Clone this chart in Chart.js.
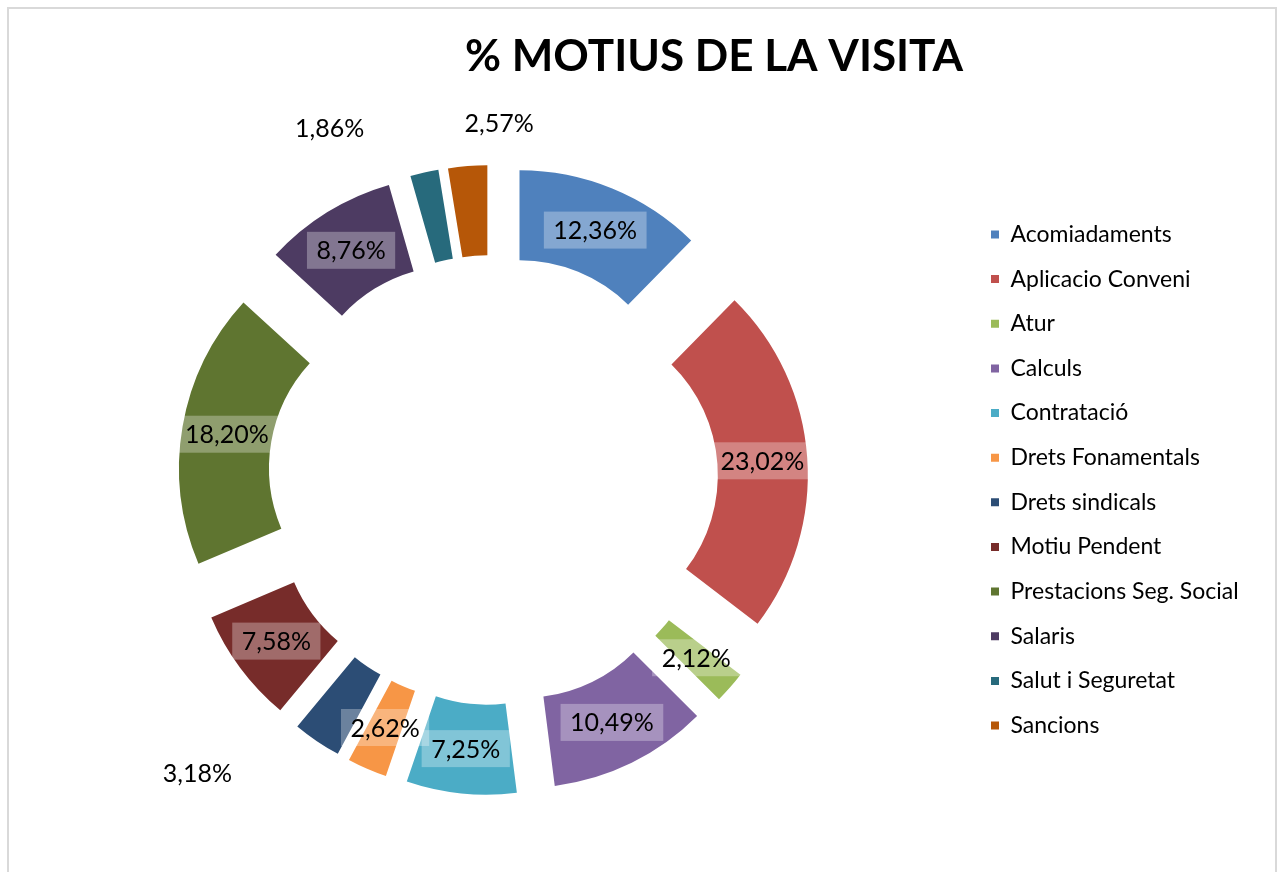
<!DOCTYPE html>
<html>
<head>
<meta charset="utf-8">
<script src="https://cdn.jsdelivr.net/npm/chart.js@4.4.1/dist/chart.umd.min.js"></script>
<style>
  html, body { margin: 0; padding: 0; background: #fff; overflow: hidden; }
  #frame { position: absolute; left: 7px; top: 7px; width: 1270px; height: 900px; border: 2px solid #d9d9d9; box-sizing: border-box; }
  #chart { position: absolute; left: 0; top: 0; }
</style>
</head>
<body>
<div id="frame"></div>
<canvas id="chart" width="1277" height="872"></canvas>
<script>
const chartTitle = "% MOTIUS DE LA VISITA";
const categories = [
  "Acomiadaments", "Aplicacio Conveni", "Atur", "Calculs", "Contratació",
  "Drets Fonamentals", "Drets sindicals", "Motiu Pendent",
  "Prestacions Seg. Social", "Salaris", "Salut i Seguretat", "Sancions"
];
const percentages = [12.36, 23.02, 2.12, 10.49, 7.25, 2.62, 3.18, 7.58, 18.20, 8.76, 1.86, 2.57];
const sliceColors = [
  "#4F81BD", "#C0504D", "#9BBB59", "#8064A2", "#4BACC6", "#F79646",
  "#2C4D75", "#772C2A", "#5F7530", "#4D3B62", "#276A7C", "#B65708"
];

const explode = 70;        // radial shift of every slice (px), like Excel's point explosion
const outerR = 245;
const innerR = 155;

// labels that Excel moved outside the ring: [angle shift in degrees, distance from centre]
const outsideLabels = { 6: [11.3, 416], 10: [-12.3, 388], 11: [5.6, 357] };

const fmt = v => v.toFixed(2).replace(".", ",") + "%";

// legend geometry
const legendSize = 23;
const legendPad = 44.64 - legendSize;
const boxSize = 8;
const mctx = document.createElement("canvas").getContext("2d");
mctx.font = `normal ${legendSize}px Lato`;
const longest = Math.max(...categories.map(c => mctx.measureText(c).width));
const legendW = legendPad + boxSize + legendSize / 2 + longest + 10;
const areaRight = 991 - legendPad;
const areaLeft = 2 * 493 - areaRight;
const padRight = 1277 - areaRight - legendW;

const titlePlugin = {
  id: "sheetTitle",
  afterDraw(chart) {
    const ctx = chart.ctx;
    ctx.save();
    ctx.font = "bold 44px Lato";
    ctx.fillStyle = "#000";
    ctx.textAlign = "center";
    ctx.textBaseline = "alphabetic";
    ctx.fillText(chartTitle, 714, 71);
    ctx.restore();
  }
};

// draw every arc moved outwards along its own mid angle
const explodePlugin = {
  id: "explode",
  beforeDatasetDraw(chart, args) {
    const ctx = chart.ctx;
    args.meta.data.forEach(arc => {
      const mid = (arc.startAngle + arc.endAngle) / 2;
      ctx.save();
      ctx.translate(Math.cos(mid) * explode, Math.sin(mid) * explode);
      arc.draw(ctx);
      ctx.restore();
    });
    return false;
  }
};

const labelPlugin = {
  id: "sliceLabels",
  afterDatasetsDraw(chart) {
    const ctx = chart.ctx;
    const meta = chart.getDatasetMeta(0);
    ctx.save();
    ctx.font = "normal 25px Lato";
    ctx.textAlign = "center";
    ctx.textBaseline = "middle";
    meta.data.forEach((arc, i) => {
      let mid = (arc.startAngle + arc.endAngle) / 2;
      let dist = (arc.innerRadius + arc.outerRadius) / 2 + explode;
      if (outsideLabels[i]) {
        mid += outsideLabels[i][0] * Math.PI / 180;
        dist = outsideLabels[i][1];
      }
      const x = arc.x + Math.cos(mid) * dist;
      const y = arc.y + Math.sin(mid) * dist;
      const text = fmt(percentages[i]);
      const w = ctx.measureText(text).width + 19;
      ctx.fillStyle = "rgba(255,255,255,0.3)";
      ctx.fillRect(x - w / 2, y - 18.5, w, 37);
      ctx.fillStyle = "#000";
      ctx.fillText(text, x, y + 1);
    });
    ctx.restore();
  }
};

new Chart(document.getElementById("chart"), {
  type: "doughnut",
  data: {
    labels: categories,
    datasets: [{
      data: percentages,
      backgroundColor: sliceColors,
      borderWidth: 0,
      offset: 0,
      hoverOffset: 0,
      clip: false
    }]
  },
  options: {
    responsive: false,
    devicePixelRatio: 1,
    animation: false,
    events: [],
    radius: outerR,
    cutout: (innerR / outerR * 100) + "%",
    layout: { padding: { left: areaLeft, right: padRight, top: 110, bottom: 22 } },
    plugins: {
      title: { display: false },
      tooltip: { enabled: false },
      legend: {
        position: "right",
        align: "center",
        labels: {
          boxWidth: boxSize,
          boxHeight: boxSize,
          padding: legendPad,
          color: "#000",
          font: { family: "Lato", size: legendSize }
        }
      }
    }
  },
  plugins: [titlePlugin, explodePlugin, labelPlugin]
});
</script>
</body>
</html>
